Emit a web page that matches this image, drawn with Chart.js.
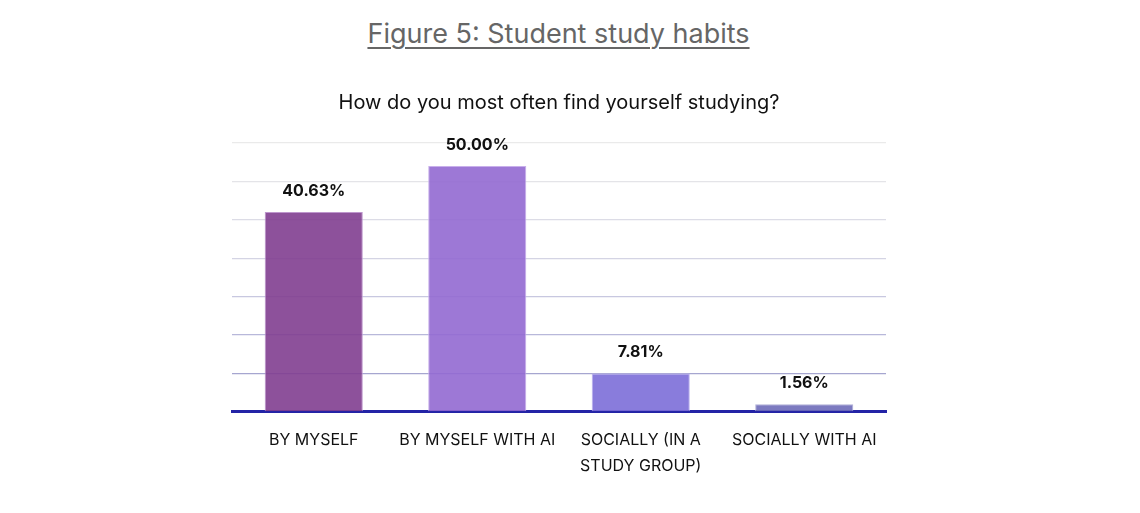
<!DOCTYPE html>
<html>
<head>
<meta charset="utf-8">
<script src="https://cdn.jsdelivr.net/npm/chart.js@4.4.1/dist/chart.umd.min.js"></script>
<style>
    html, body {margin: 0; padding: 0; background: #fff;}
    #wrap {position: relative; width: 1140px; height: 513px;}
    #fig-title {
        position: absolute; left: 0; top: 17px; width: 1117px;
        text-align: center; font-family: Inter, 'Noto Sans', sans-serif;
        font-size: 27px; color: #666; text-decoration: underline;
        text-decoration-thickness: 2px; text-underline-offset: 4px;
        line-height: 34px;
    }
    canvas {position: absolute; left: 0; top: 0;}
</style>
</head>
<body>
<div id="wrap">
    <div id="fig-title">Figure 5: Student study habits</div>
    <canvas id="chart" width="1140" height="513"></canvas>
</div>
<script>
const categories = ['BY MYSELF', 'BY MYSELF WITH AI', ['SOCIALLY (IN A', 'STUDY GROUP)'], 'SOCIALLY WITH AI']
const shares = [40.63, 50.00, 7.81, 1.56]
const barColors = ['rgba(129,62,144,0.9)', 'rgba(146,105,209,0.9)', 'rgba(124,110,216,0.9)', 'rgba(110,108,185,0.9)']
const barBorders = ['rgba(190,150,205,1)', 'rgba(200,175,235,1)', 'rgba(190,180,240,1)', 'rgba(175,175,215,1)']
const gridColors = ['rgba(0,0,0,0)', '#a6a6d0', '#b8b8da', '#c8c8e0', '#d4d4e4', '#dcdce6', '#e4e4e8', '#eaeaea']

Chart.defaults.font.family = "Inter, 'Noto Sans', sans-serif"

new Chart(document.getElementById('chart'), {
    type: 'bar',
    data: {
        labels: categories,
        datasets: [{
            data: shares,
            backgroundColor: barColors,
            borderColor: barBorders,
            borderWidth: 1,
            barPercentage: 0.6,
            categoryPercentage: 1,
        }],
    },
    options: {
        responsive: false,
        animation: false,
        layout: {padding: {left: 232, right: 254, top: 0, bottom: 18}},
        plugins: {
            legend: {display: false},
            tooltip: {enabled: false},
            title: {
                display: true,
                text: 'How do you most often find yourself studying?',
                color: '#111',
                font: {size: 20, weight: 'normal'},
                padding: {top: 91, bottom: 28},
            },
        },
        scales: {
            y: {
                min: 0,
                max: 54.6875,
                ticks: {display: false, stepSize: 7.8125},
                grid: {
                    drawTicks: false,
                    lineWidth: 1.3,
                    color: ctx => gridColors[ctx.index] || '#eaeaea',
                },
                border: {display: false},
            },
            x: {
                z: 1,
                grid: {display: false, drawTicks: false},
                border: {display: true, color: '#2323a6', width: 3},
                ticks: {
                    color: '#111',
                    font: {size: 16, lineHeight: 1.6},
                    padding: 16,
                    maxRotation: 0,
                },
            },
        },
    },
    plugins: [{
        id: 'share-labels',
        afterDatasetsDraw(chart) {
            const {ctx} = chart
            const meta = chart.getDatasetMeta(0)
            ctx.save()
            ctx.fillStyle = '#111'
            ctx.font = "bold 16px Inter, 'Noto Sans', sans-serif"
            ctx.textAlign = 'center'
            ctx.textBaseline = 'middle'
            meta.data.forEach((bar, i) => {
                ctx.fillText(shares[i].toFixed(2) + '%', bar.x, bar.y - 21)
            })
            ctx.restore()
        },
    }],
})
</script>
</body>
</html>
